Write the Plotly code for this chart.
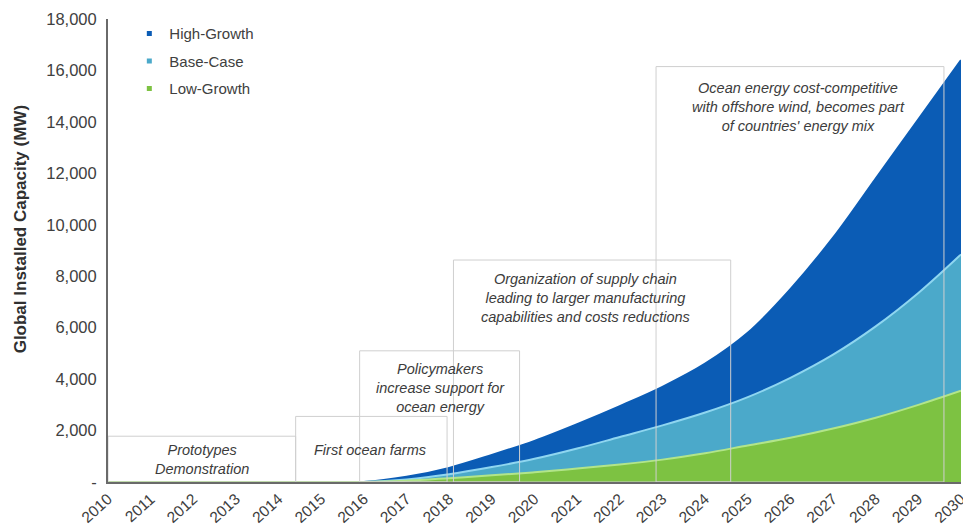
import plotly.graph_objects as go

years = list(range(2010, 2031))
high_growth = [0, 0, 0, 0, 0, 0, 0, 200, 550, 1050, 1600, 2250, 2950, 3700, 4600, 5800, 7500, 9500, 11800, 14100, 16400]
base_case = [0, 0, 0, 0, 0, 0, 0, 100, 300, 580, 900, 1300, 1750, 2200, 2700, 3300, 4050, 4950, 6050, 7350, 8850]
low_growth = [0, 0, 0, 0, 0, 0, 0, 50, 150, 260, 380, 520, 680, 870, 1120, 1420, 1720, 2080, 2500, 3000, 3550]

y_ticks = list(range(0, 18001, 2000))
y_labels = ["-"] + [f"{v:,}" for v in y_ticks[1:]]

# phase boxes: (x0, x1, top, text)
phases = [
    (2010.0, 2014.4, 1780, "Prototypes<br>Demonstration"),
    (2014.4, 2017.95, 2550, "First ocean farms"),
    (2015.9, 2019.65, 5100, "Policymakers<br>increase support for<br>ocean energy"),
    (2018.1, 2024.6, 8630, "Organization of supply chain<br>leading to larger manufacturing<br>capabilities and costs reductions"),
    (2022.85, 2029.6, 16150, "Ocean energy cost-competitive<br>with offshore wind, becomes part<br>of countries' energy mix"),
]
# text anchor for each box (x, y)
phase_text_pos = [(2012.2, 1630), (2016.15, 1650), (2017.8, 4800), (2021.2, 8270), (2026.2, 15700)]

series = [
    ("High-Growth", high_growth, "#0b5cb5", "#0b5cb5"),
    ("Base-Case", base_case, "#4ba9ca", "#8fd6f0"),
    ("Low-Growth", low_growth, "#7dc242", "#b2e58a"),
]

fig = go.Figure()
for name, vals, fill, line in series:
    fig.add_trace(go.Scatter(
        x=years, y=vals, name=name, mode="lines",
        line=dict(color=line, width=2, shape="spline", smoothing=1),
        fill="tozeroy", fillcolor=fill, showlegend=False,
    ))

# legend entries as small square markers
for i, (name, vals, fill, line) in enumerate(series):
    fig.add_trace(go.Scatter(
        x=[None], y=[None], name=name, mode="markers",
        marker=dict(symbol="square", size=5, color=fill),
        legendgroup=f"g{i}",
    ))

for (x0, x1, top, txt), (tx, ty) in zip(phases, phase_text_pos):
    fig.add_shape(type="rect", x0=x0, x1=x1, y0=0, y1=top,
                  line=dict(color="#cfcfcf", width=1), layer="above")
    fig.add_annotation(x=tx, y=ty, text=f"<i>{txt}</i>", showarrow=False,
                       yanchor="top", align="center",
                       font=dict(size=14.5, color="#3c3c3c"))

fig.add_annotation(x=-0.103, y=0.546, xref="paper", yref="paper",
                   xanchor="center", yanchor="middle",
                   text="<b>Global Installed Capacity (MW)</b>", textangle=-90,
                   showarrow=False, font=dict(size=17, color="#303030"))

# page body has an 8px margin, so the figure is sized/offset to fit the window
fig.update_layout(
    width=963, height=520,
    margin=dict(l=100, r=10, t=9, b=46),
    plot_bgcolor="white", paper_bgcolor="white",
    font=dict(family="Liberation Sans, Arial", size=15, color="#404040"),
    showlegend=True,
    legend=dict(x=0.025, y=1.004, xanchor="left", yanchor="top",
                bgcolor="rgba(0,0,0,0)", tracegroupgap=5,
                font=dict(size=15, color="#404040")),
    xaxis=dict(range=[2010, 2030], tickmode="array", tickvals=years,
               ticktext=[str(y) for y in years], tickangle=-42,
               showgrid=False, zeroline=False, showline=True,
               linecolor="#6a6a6a", linewidth=2, ticks="", automargin=False,
               ticklabeloverflow="allow",
               tickfont=dict(size=15.5, color="#404040")),
    yaxis=dict(range=[0, 18000], tickmode="array", tickvals=y_ticks,
               ticktext=y_labels, showgrid=False, zeroline=False,
               showline=True, linecolor="#6a6a6a", linewidth=2, ticks="",
               ticklabelstandoff=6, automargin=False,
               ticklabeloverflow="allow",
               tickfont=dict(size=16.5, color="#404040")),
)

fig.write_html("out.html")
